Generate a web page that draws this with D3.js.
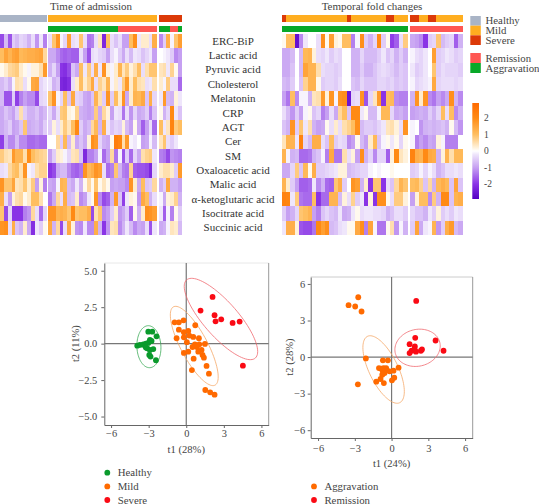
<!DOCTYPE html>
<html><head><meta charset="utf-8">
<script src="https://cdn.jsdelivr.net/npm/d3@7/dist/d3.min.js"></script>
<style>html,body{margin:0;padding:0;background:#fff}svg{display:block}text{font-family:"Liberation Serif",serif}</style>
</head><body><svg id="c" width="539" height="504"></svg>
<script>
const rowLabels=["ERC-BiP","Lactic acid","Pyruvic acid","Cholesterol","Melatonin","CRP","AGT","Cer","SM","Oxaloacetic acid","Malic acid","α-ketoglutaric acid","Isocitrate acid","Succinic acid"];

// heat map 1: 12 healthy, 28 mild, 6 severe
const admissionValues=[
[-1.8,-.7,-1.7,-.5,-.7,-.4,-.5,-.8,-.3,-1.1,-.2,-1.3, -.3,.9,1.8,-.1,-.4,1.6,-.3,-.2,.9,-.3,-1.4,-1.3,-.3,.4,-2.2,1,-.3,-.6,-.3,-1,-1,1,1.9,-.2,.3,.3,-.3,1.3, -1.2,-.5,1.3,-.1,.9,1.6],
[1,1.5,1.2,1.5,1.6,1.1,1.2,1.3,1.3,1.4,1.5,.6, -.9,-.9,-1.2,-1.5,-1.6,-1.5,-1.6,-1.6,-.3,-1,-1.7,-.3,-.2,-.4,-.5,-1,-.3,-.1,-.5,-.9,-.3,-.7,-.2,-.3,-.6,-.4,-.2,-1, 0,-.1,-.2,-.5,-1.2,-1],
[.1,.3,.6,.7,.8,.3,.1,-.1,.2,.2,.5,1.7, -.8,-.4,-1,-2,-2.1,-1.8,-.6,-.9,1,-.2,.8,-.3,1.3,-.2,1.8,.2,-.1,.3,1.2,.4,.8,.2,.5,1,-.3,.5,.9,.9, .4,.5,-.2,.7,.1,-1],
[-.7,-.5,-.8,-.1,.5,.4,-.3,.1,1.4,1.5,-.4,-.2, -.2,-.8,-.6,-2.2,-2.3,-2.1,-.3,.3,1,.3,.7,1.4,-.3,.7,.4,1.2,-.1,.3,-.2,.8,1.7,.3,1,.5,.4,-.3,-.2,.5, .3,-.1,.8,-.3,-.3,-1.5],
[-.7,-1.7,-1.7,-.5,-1.9,-1.3,-1,-1.2,-1.2,-1.8,-.4,-.3, .9,1.8,-.1,-.4,1,-.6,1.4,-.4,-.5,-.9,-1,-.6,1.2,.5,-.5,1.8,-.5,1,.3,1.8,-.9,.3,1.2,1.1,1.4,-.6,1.3,-.4, -.2,1.7,-.7,-.8,.2,-.2],
[-.9,-.6,-.8,-1,-.5,.5,-.5,-.8,-.8,-.6,-.9,-.7, -.4,-.9,-.3,.8,.9,.2,.1,.7,-.8,-.9,-1,-.9,.8,-.9,.6,.2,-1,-.2,-.3,-1.4,-.3,-1.1,-.4,-.9,-.8,-.5,-1.3,-.6, .1,-.8,-.4,2,-.2,-.6],
[-.9,-.7,-.5,-1,-.9,-.6,.9,-.9,-.8,-.7,-.9,-.5, -.5,.2,-.3,.3,.8,.4,1,2,-.5,-.9,-.7,.6,1.1,-.8,1.3,-.2,-.6,-.4,-.5,.2,-.7,-1,.1,-.9,-1.6,-1,-.3,-1.5, 1,-.2,.4,2.2,.8,1],
[-1.9,-.8,-1.2,-1.2,-.7,-1.2,-1.2,-1.5,-1.5,-1.4,-1.5,-1.5, 0,0,.6,-.5,1.1,-.7,.3,-.9,-.6,-.9,.2,1.9,1.7,-.4,-.8,-.9,.1,2.3,2.1,.5,1.7,-.1,-.2,0,-1,-.9,-.1,-.7, .4,.9,-.3,-.5,-.2,0],
[.8,.5,.4,1.7,1.2,1.2,.5,1.9,1,.8,.7,.6, -1,-.5,.3,.2,-.1,-.4,.4,.5,-.6,-2.2,-1.3,-1.3,-1,-.1,-1.5,-1,.6,-1.4,-.1,-1.7,-.5,-1.5,-.4,-.9,.5,.7,.8,-.2, -1.3,-1.4,-1.8,-1.1,-1.2,-1.3],
[-.3,-.2,.6,.9,1,.5,1.8,-.1,-.2,.5,.7,.7, -2,-1.8,-.9,-.7,-.7,-1.2,-1.5,-1.6,-1.4,1.8,1.1,1.3,1.8,1.6,-.3,-1.5,-1.3,.9,-.8,-1.3,-1.4,.7,-1.6,-1.7,-1.7,-1.8,-2.2,-.4, .3,.5,.5,.3,-.5,1.7],
[1.8,.9,.9,1.5,.4,.5,.9,.3,.8,-1,.2,-1.3, -.9,-1,-.1,1.2,1.1,-.7,-.9,-.2,-.8,.1,.6,.1,.9,.1,.4,.1,-1,-.9,-1,-1,-1.2,1.8,.3,-.9,1,-.6,-.5,.6, -.8,-.5,1.4,-.8,-.8,-1],
[1.3,-.3,-1,.2,.5,.6,.1,.3,1,1,.5,0, -1.4,-.9,.6,-.3,1.3,-.7,-.6,.3,-1.2,-1,-.2,.1,1.8,-1.2,-1.8,-1.6,-.8,1.7,-.6,-1.9,-.2,.2,.1,-1.1,1.4,1,-.8,-.3, -.1,-.9,.2,.3,.7,-.8],
[.9,-1.8,-.4,-2,-2,-2,-1.3,-1.1,.6,-.3,-1.5,-.4, 1.8,1.8,1.2,1.3,1.2,.9,2,.9,1,1,1.3,-1.8,.5,.9,-1.2,-1,-.5,.3,-1.1,-.9,-.5,-1.6,.1,-.8,.3,1.9,1.8,1.6, -.2,-1.6,-.1,-1.3,.1,-.5],
[1.8,1.9,-.3,1.3,-.6,-.8,.3,-.9,-2.1,-.2,-.5,.1, 1.4,-.8,.6,-1.8,-.3,1.4,.2,-1.1,-1.2,-.2,-1.2,-1.2,1.3,-.8,-2,-1.1,.4,.5,-1.2,-.8,-.2,-.7,-1.2,-.9,-1,-.3,-1.7,-.2, -.9,-.8,-.1,.4,.3,-.7]
];
const admissionGroups=[12,28,6];
const admissionStatus=["Healthy","Mild","Severe"];
const admissionOutcome=[...Array(12).fill(null),...Array(18).fill("Aggravation"),...Array(10).fill("Remission"),"Aggravation","Aggravation","Aggravation","Remission","Remission","Aggravation"];

// heat map 2: 29 aggravation, 12 remission
const foldValues=[
[.1,1,1,-2.6,-1.2,-.2,0,0,-.3,1.9,.1,1.6,.2,.1,1,1,-1.3,-.1,1.9,-.5,-.8,-.4,2,-.5,.1,-1.9,-1.6,-.3,.8, -.9,-1,-1.2,-2,-.5,-.4,.9,-.7,-.5,-.4,-1.6,-.8],
[-.9,-.9,-.7,0,-.7,1.1,1.2,.2,-.3,-.4,-.2,-.5,-.3,-.4,0,0,-.8,-.8,-.4,-.7,-.7,-.7,-.5,-.2,-.6,-.4,-.8,-.5,-.8, -.1,-.3,-.4,-.2,0,1.6,-.5,-.4,-.2,-.3,-.5,-.4],
[-.9,-.9,-.6,0,-.7,1.5,1.2,1.2,.5,-.3,-.4,-.4,-.5,-.4,0,0,-.8,-.8,-.5,-.8,-.8,-.6,-.4,-.3,-.4,-.5,-.7,-.5,-.6, -.2,-.5,-.4,-.2,0,.9,-.5,-.3,-.4,-.4,-.4,-.5],
[-.7,-.8,-.5,0,-.6,.7,1.2,1.2,.1,-.5,-.4,-.4,-.5,-.3,0,0,-.6,-.7,-.4,-.6,-.6,-.6,-.4,-.4,-.5,-.4,-.6,-.5,-.6, -.1,-.4,-.3,-.2,-.1,1.4,-.4,-.3,-.3,-.3,-.4,-.3],
[-1,-1.4,1,-1.2,-.1,-.1,-.8,.4,.5,1.7,.2,1.8,-.1,1.8,1.9,-2.5,-.4,-.3,1.8,-1.7,-.4,.4,1.7,-2,1,1.1,-1.2,-1.3,-1.3, -.8,1.8,.3,1.8,-1.2,-1.4,-1,-1.2,-.9,1.9,-.8,-1.2],
[-.3,-.7,-1.1,-.5,-1,-.1,.1,-.6,-.4,-1.3,-1,-.3,-.9,.6,1,-.6,2,2,-.2,.1,-.7,-.7,-.1,1.1,1.1,-.4,-.9,-.8,-1, -1,-.9,-.8,-.9,-.5,-.8,-.4,1,-.3,1,-1.2,-.8],
[-.6,-.8,1.8,-.5,.9,-.2,.5,-.8,-1,-.9,.1,-.3,.3,-.3,.5,.7,1,1.9,-.7,-.5,-.5,-.6,-.4,-.2,.4,.5,.2,-.3,1.8, -.1,0,-1.1,-.8,-.7,-.8,-.7,-.6,-.8,.1,-.7,-1.1],
[.4,1.2,1.2,-.2,2.2,-.4,-.7,1.3,1.3,-.3,-.6,1,-.5,-.3,-.4,-1.2,-1,.1,-.7,-1,.3,1.1,-.6,-.1,.1,-.2,.1,-.4,.1, -.1,-1.3,-1,-1.2,-.9,-1,.2,-.1,-1.3,-1.3,-1.3,0],
[1.2,-.1,-.8,-.7,-1.5,-1.5,-1.4,-.8,-.6,-.1,-1.3,1.4,-1.4,-1.4,.5,-.3,.2,-1,1.9,-.8,-.4,-1.2,-.4,-.4,-1.6,.2,2,.4,.2, 2.2,1.3,1.2,2,1.4,1.3,-.8,.2,1.2,.5,1.1,1.1],
[-.9,-.9,-.4,.8,-.6,1.1,.1,1.3,-.5,-.5,-.4,-.3,-.2,.2,.2,-.7,-.6,-.5,-.4,-.4,-.1,0,-.1,0,0,.1,0,0,0, -.5,-.4,-.1,-.4,-.1,-.3,-.8,-.6,-.3,-.3,-.2,-.3],
[1.2,.3,-.5,-1,-1.6,-1.6,-1.5,-.2,-1.2,-.8,-1.5,-1.6,.9,1.3,-.5,0,1.8,1.6,-.8,.3,-2,.9,.9,-2,-.3,-.6,.6,1.2,.9, 1,1.1,.7,-.6,.6,-.8,1.1,1.3,1.1,-.6,1.5,-.6],
[2.2,2.1,-.2,.8,-1.4,-1.5,-1.5,1,-2,-1.5,-1.5,1.2,1.2,-.7,.2,-.3,.7,-.5,-.2,-2,.2,-2,1.9,1.9,.1,-.3,.8,.8,.2, -1,.2,1,1,-1.2,.8,-.8,2,2,-.6,1.2,1.3],
[-.5,-1,-.8,-.4,.9,1,1.2,-1,-1.3,-.6,-.4,-.6,-.7,-.2,-.9,-.8,-.2,.1,-.3,-.2,-.2,-.3,-.3,-.4,-.8,-.6,-.3,-.3,-.5, -.4,-.6,-.6,-.8,-.2,-.5,.2,-.5,-.3,-.5,-.2,-.3],
[-.2,1.3,1.3,.2,-1.7,-1.8,-1.8,-1.4,2,1.6,1.9,-.7,-.6,-.3,-.2,.1,.1,1.4,1.9,-1.3,1.5,-.1,-1.4,-1.4,.1,.5,-1.1,-.1,-.8, -.5,1.5,-.9,-.2,-.1,1.2,-1.1,-.5,1.3,1.7,-.7,-.9]
];
const foldGroups=[29,12];
const foldStatus=["Severe","Mild","Mild","Mild","Mild","Mild","Mild","Mild","Mild","Mild","Mild","Mild","Mild","Mild","Mild","Severe","Mild","Mild","Mild","Mild","Mild","Mild","Mild","Mild","Severe","Severe","Mild","Mild","Mild",
 "Severe","Severe","Mild","Mild","Severe","Severe","Mild","Mild","Mild","Mild","Mild","Mild"];
const foldOutcome=[...Array(29).fill("Aggravation"),...Array(12).fill("Remission")];

const statusColors={Healthy:"#a9b4c6",Mild:"#ffae20",Severe:"#dc3a08"};
const outcomeColors={Remission:"#ff5752",Aggravation:"#08a828"};
const legendStatus=["Healthy","Mild","Severe"];
const legendOutcome=["Remission","Aggravation"];
const colorStops=[-2.9,-2,-1,-.2,0,.2,1,2,2.9];
const colorRange=["#5400c4","#8a34e6","#c6a0f2","#efe6fb","#ffffff","#fff2dc","#ffbe60","#ff8a14","#ff6a00"];
const colorTicks=[2,1,0,-1,-2];

// score plot A
const healthyA=[[-3.91,-.14],[-3.7,-.09],[-3.43,-.05],[-3.22,0],[-3.03,.05],[-2.9,.25],[-3.03,.82],[-2.71,.82],[-2.37,.5],[-3.11,-.32],[-2.9,-.43],[-2.63,-.37],[-2.95,-.78],[-2.85,-.89],[-2.42,-1.14],[-3.3,-.14],[-3.22,-.27],[-2.77,.18]];
const mildA=[[-.93,1.46],[-.59,1.46],[-.21,1.6],[.72,1.26],[-.59,.96],[-.19,.78],[.16,.87],[-.77,.37],[-.19,.43],[.24,.55],[.56,.46],[1.01,.37],[.05,.1],[.69,-.05],[1.04,-.05],[1.49,-.02],[.5,-.23],[.85,-.23],[1.22,-.43],[.16,-.55],[-.19,-.64],[.96,-.55],[1.3,-.78],[1.41,-.96],[.59,-1.03],[1.62,-1.53],[.45,-1.81],[1.81,-2.06],[1.52,-3.18],[1.91,-3.34],[2.26,-3.5]];
const severeA=[[2.1,3.2],[1.14,2.27],[2.26,1.95],[2.79,1.67],[2.34,1.53],[3.7,1.42],[4.26,1.51],[4.52,-1.51]];
// score plot B
const aggravationB=[[-2.72,4.91],[-3.51,4.26],[-2.97,4.15],[-2.45,3.74],[-2.1,-.11],[-.71,-.27],[-.3,-.27],[-2.75,-2.24],[.57,-.87],[.16,-1.12],[-1.03,-.9],[-.84,-.95],[-.65,-.9],[-.44,-.9],[-.38,-1.09],[-.71,-1.17],[-.57,-1.31],[-.76,-1.45],[-.9,-1.8],[-1.25,-2.02],[-.63,-2.13],[.22,-1.69],[.03,-1.91],[-.16,-1.17]];
const remissionB=[[2.01,4.61],[1.93,1.58],[1.47,1.06],[1.9,.87],[3.59,1.36],[4.24,.52],[2.48,.63],[2.39,.52],[1.99,.44],[1.63,.52],[1.47,.33],[1.88,.65]];
// ellipses: centre x, centre y, half width, half height, correlation
const ellipseHealthy=[-2.98,-.21,.96,1.44,-.05];
const ellipseMild=[.64,-.16,1.91,2.72,-.78];
const ellipseSevere=[2.77,1.69,2.93,2.79,-.8];
const ellipseAggravation=[-.65,-1.02,1.69,2.77,-.65];
const ellipseRemission=[2.12,.76,1.85,1.53,.1];
const xTicks=[-6,-3,0,3,6];
const yTicksA=[-5,-2.5,0,2.5,5];
const yTicksB=[-6,-3,0,3,6];

const svg=d3.select("#c");
const color=d3.scaleLinear().domain(colorStops).range(colorRange).clamp(true);
const serif='"Liberation Serif",serif';

function heatmap(values,groups,x0s,cw,status,outcome,statusBand,outcomeBand){
  const y=d3.scaleBand().domain(d3.range(values.length)).range([34,235]);
  const starts=[];let c=0;groups.forEach((n,g)=>{for(let i=0;i<n;i++)starts.push({g,i,c:c++});});
  const xOf=s=>x0s[s.g]+s.i*cw;
  const g=svg.append("g").attr("shape-rendering","crispEdges");
  values.forEach((row,r)=>{
    g.selectAll(null).data(row).join("rect")
      .attr("x",(d,i)=>xOf(starts[i])).attr("y",y(r))
      .attr("width",cw+.3).attr("height",y.bandwidth()+.3)
      .attr("fill",d=>color(d));
  });
  g.selectAll(null).data(status).join("rect")
    .attr("x",(d,i)=>xOf(starts[i])).attr("y",statusBand[0]).attr("width",cw+.3).attr("height",statusBand[1]-statusBand[0])
    .attr("fill",d=>statusColors[d]);
  g.selectAll(null).data(outcome).join("rect")
    .attr("x",(d,i)=>xOf(starts[i])).attr("y",outcomeBand[0]).attr("width",cw+.3).attr("height",outcomeBand[1]-outcomeBand[0])
    .attr("fill",d=>d?outcomeColors[d]:"none");
}
const admStatusCols=admissionGroups.flatMap((n,i)=>Array(n).fill(admissionStatus[i]));
heatmap(admissionValues,admissionGroups,[0,48,158.7],3.87,admStatusCols,admissionOutcome,[14.7,22],[25.5,32]);
heatmap(foldValues,foldGroups,[281.7,410.3],4.33,foldStatus,foldOutcome,[14.7,22],[25.5,32]);

const ytxt=d3.scaleBand().domain(rowLabels).range([34,235]);
svg.selectAll(".rl").data(rowLabels).join("text").attr("class","rl")
  .attr("x",233).attr("y",d=>ytxt(d)+ytxt.bandwidth()/2+3.6).attr("text-anchor","middle")
  .attr("font-size",11).attr("fill","#333").text(d=>d);
svg.append("text").attr("x",91).attr("y",9.8).attr("text-anchor","middle").attr("font-size",11).attr("fill","#444").text("Time of admission");
svg.append("text").attr("x",372).attr("y",9.8).attr("text-anchor","middle").attr("font-size",11).attr("fill","#444").text("Temporal fold changes");

// annotation legends
const ly=d3.scaleBand().domain(legendStatus).range([16,45]);
svg.selectAll(".ls").data(legendStatus).join("rect").attr("class","ls").attr("x",470.3).attr("y",d=>ly(d)).attr("width",10.5).attr("height",ly.bandwidth()).attr("fill",d=>statusColors[d]);
svg.selectAll(".lt").data(legendStatus).join("text").attr("class","lt").attr("x",485.5).attr("y",d=>ly(d)+ly.bandwidth()/2+3.5).attr("font-size",10.8).attr("fill","#444").text(d=>d);
const ly2=d3.scaleBand().domain(legendOutcome).range([53,73]);
svg.selectAll(".lo").data(legendOutcome).join("rect").attr("class","lo").attr("x",470.3).attr("y",d=>ly2(d)).attr("width",10.5).attr("height",ly2.bandwidth()).attr("fill",d=>outcomeColors[d]);
svg.selectAll(".lu").data(legendOutcome).join("text").attr("class","lu").attr("x",485.5).attr("y",d=>ly2(d)+ly2.bandwidth()/2+3.5).attr("font-size",10.8).attr("fill","#444").text(d=>d);

// colour bar
const cb=d3.scaleLinear().domain([-2.9,2.9]).range([199,103]);
const grad=svg.append("defs").append("linearGradient").attr("id","cbg").attr("x1",0).attr("x2",0).attr("y1",1).attr("y2",0);
colorStops.forEach((s,i)=>grad.append("stop").attr("offset",(s+2.9)/5.8).attr("stop-color",colorRange[i]));
svg.append("rect").attr("x",472.3).attr("y",103).attr("width",6.7).attr("height",96).attr("fill","url(#cbg)");
svg.selectAll(".ct").data(colorTicks).join("text").attr("class","ct").attr("x",484).attr("y",d=>cb(d)+3.3).attr("font-size",9.5).attr("fill","#444").text(d=>d);

// score plots
function ellipsePts(e){
  const [cx,cy,ax,ay,r]=e;
  return d3.range(0,361,4).map(a=>{const t=a*Math.PI/180;
    return [cx+ax*Math.cos(t),cy+ay*(r*Math.cos(t)+Math.sqrt(1-r*r)*Math.sin(t))];});
}
function scorePlot(o){
  const x=d3.scaleLinear().domain(o.xd).range(o.xr), y=d3.scaleLinear().domain(o.yd).range(o.yr);
  const g=svg.append("g");
  const [l,r]=o.xr,[b,t]=o.yr;
  g.append("line").attr("x1",l).attr("x2",r).attr("y1",t).attr("y2",t).attr("stroke",o.topColor).attr("stroke-width",1);
  g.append("line").attr("x1",r).attr("x2",r).attr("y1",t).attr("y2",b).attr("stroke","#999").attr("stroke-width",1);
  const ax=g.append("g").attr("transform",`translate(0,${b})`).call(d3.axisBottom(x).tickValues(xTicks).tickSize(3).tickSizeOuter(0).tickFormat(d3.format("d")));
  const ay=g.append("g").attr("transform",`translate(${l},0)`).call(d3.axisLeft(y).tickValues(o.yTicks).tickSize(3).tickSizeOuter(0).tickFormat(o.fmt));
  [ax,ay].forEach(a=>{a.selectAll("path").attr("stroke",o.axisColor).attr("stroke-width",1);a.selectAll("line").attr("stroke","#666");
    a.selectAll("text").attr("font-family",serif).attr("font-size",10.4).attr("fill","#444");});
  ax.selectAll("text").attr("dy",0).attr("y",o.xTickY);
  ay.selectAll("text").attr("x",o.yTickX);
  g.append("line").attr("x1",x(0)).attr("x2",x(0)).attr("y1",t).attr("y2",b).attr("stroke","#777").attr("stroke-width",1.2);
  g.append("line").attr("x1",l).attr("x2",r).attr("y1",y(0)).attr("y2",y(0)).attr("stroke","#777").attr("stroke-width",1.2);
  const line=d3.line().x(d=>x(d[0])).y(d=>y(d[1]));
  o.series.forEach(s=>{
    g.append("path").attr("d",line(ellipsePts(s.ell))).attr("fill","none").attr("stroke",s.ellColor).attr("stroke-width",.8);
    g.selectAll(null).data(s.pts).join("circle").attr("cx",d=>x(d[0])).attr("cy",d=>y(d[1])).attr("r",2.9).attr("fill",s.color);
  });
  g.append("text").attr("x",x(0)).attr("y",o.xTitleY).attr("text-anchor","middle").attr("font-size",10.6).attr("fill","#444").text(o.xTitle);
  g.append("text").attr("transform",`translate(${o.yTitleX},${y(0)}) rotate(-90)`).attr("text-anchor","middle").attr("font-size",10.6).attr("fill","#444").text(o.yTitle);
}
const GREEN="#0a9a2c",ORANGE="#ff6a00",RED="#fa0a14";
scorePlot({xd:[-6.54,6.58],xr:[104.3,268.7],yd:[-5.58,5.53],yr:[425,263],yTicks:yTicksA,fmt:d3.format(".1f"),topColor:"#e8e8e8",axisColor:"#666",xTickY:12,yTickX:-7,xTitle:"t1 (28%)",yTitle:"t2 (11%)",xTitleY:453,yTitleX:78.5,
  series:[{pts:healthyA,color:GREEN,ell:ellipseHealthy,ellColor:"#3aaa55"},{pts:mildA,color:ORANGE,ell:ellipseMild,ellColor:"#f5a868"},{pts:severeA,color:RED,ell:ellipseSevere,ellColor:"#f06a70"}]});
scorePlot({xd:[-6.6,6.62],xr:[310.7,472.7],yd:[-6.64,6.57],yr:[438,277],yTicks:yTicksB,fmt:d3.format("d"),topColor:"#cccccc",axisColor:"#666",xTickY:13.5,yTickX:-5.5,xTitle:"t1 (24%)",yTitle:"t2 (28%)",xTitleY:467,yTitleX:292.5,
  series:[{pts:aggravationB,color:ORANGE,ell:ellipseAggravation,ellColor:"#f5a868"},{pts:remissionB,color:RED,ell:ellipseRemission,ellColor:"#f06a70"}]});

// point legends
const legendA=[["Healthy",GREEN],["Mild",ORANGE],["Severe",RED]];
const legendB=[["Aggravation",ORANGE],["Remission",RED]];
function ptLegend(items,x,ys){
  items.forEach((d,i)=>{
    svg.append("circle").attr("cx",x).attr("cy",ys[i]).attr("r",2.9).attr("fill",d[1]);
    svg.append("text").attr("x",x+10.4).attr("y",ys[i]+3.5).attr("font-size",10.8).attr("fill","#444").text(d[0]);
  });
}
ptLegend(legendA,107.3,[472.7,486.4,500]);
ptLegend(legendB,314,[486.4,500]);
</script></body></html>
